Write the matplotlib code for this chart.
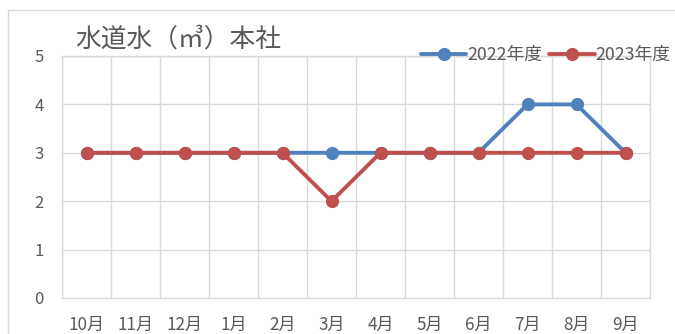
import matplotlib
matplotlib.use("Agg")
import matplotlib.pyplot as plt
from matplotlib.patches import Rectangle
import numpy as np

plt.rcParams['font.family'] = ['Noto Sans CJK JP', 'DejaVu Sans']

months = ['10月', '11月', '12月', '1月', '2月', '3月', '4月', '5月', '6月', '7月', '8月', '9月']
fy2022 = [3, 3, 3, 3, 3, 3, 3, 3, 3, 4, 4, 3]
fy2023 = [3, 3, 3, 3, 3, 2, 3, 3, 3, 3, 3, 3]
series_labels = ['2022年度', '2023年度']
title = '水道水（㎥）本社'
yticks = [0, 1, 2, 3, 4, 5]

W, H = 675, 334
fig = plt.figure(figsize=(W / 100, H / 100), dpi=100)
fig.patch.set_facecolor('white')

# outer chart frame
fig.add_artist(Rectangle((8 / W, -0.1), 1.2, (H - 10) / H + 0.1, transform=fig.transFigure,
                         fill=False, edgecolor='#d9d9d9', linewidth=1.0))

ax = fig.add_axes([62 / W, (H - 298) / H, 588 / W, 242 / H])
x = np.arange(len(months))

grid_c = '#d9d9d9'
text_c = '#595959'
blue = '#4F81BD'
red = '#C0504D'

ax.plot(x, fy2022, color=blue, lw=2.8, marker='o', ms=8.5, label=series_labels[0], zorder=3,
        solid_capstyle='round')
ax.plot(x, fy2023, color=red, lw=2.8, marker='o', ms=8.5, label=series_labels[1], zorder=4,
        solid_capstyle='round')

ax.set_xlim(-0.5, len(months) - 0.5)
ax.set_ylim(0, 5)
ax.set_xticks(x)
ax.set_xticklabels(months)
ax.set_xticks(np.arange(-0.5, len(months)), minor=True)
ax.set_yticks(yticks)
ax.grid(True, which='minor', axis='x', color=grid_c, lw=1.0)
ax.grid(True, which='major', axis='y', color=grid_c, lw=1.0)
ax.set_axisbelow(True)
for s in ax.spines.values():
    s.set_color(grid_c)
    s.set_linewidth(1.0)
ax.tick_params(which='both', length=0)
ax.tick_params(axis='x', pad=13, labelsize=12.3, colors=text_c)
ax.tick_params(axis='y', pad=13, labelsize=12, colors=text_c)

fig.text(75 / W, (H - 40) / H, title, fontsize=18.5, color=text_c, va='center', ha='left')

leg = ax.legend(loc='center left', bbox_to_anchor=(421 / W, (H - 55) / H), bbox_transform=fig.transFigure,
                ncol=2, frameon=False, fontsize=12.8, handlelength=2.55, handletextpad=0.05,
                columnspacing=0.4, borderpad=0, borderaxespad=0)
for t in leg.get_texts():
    t.set_color(text_c)

fig.savefig('out.png', dpi=100)
